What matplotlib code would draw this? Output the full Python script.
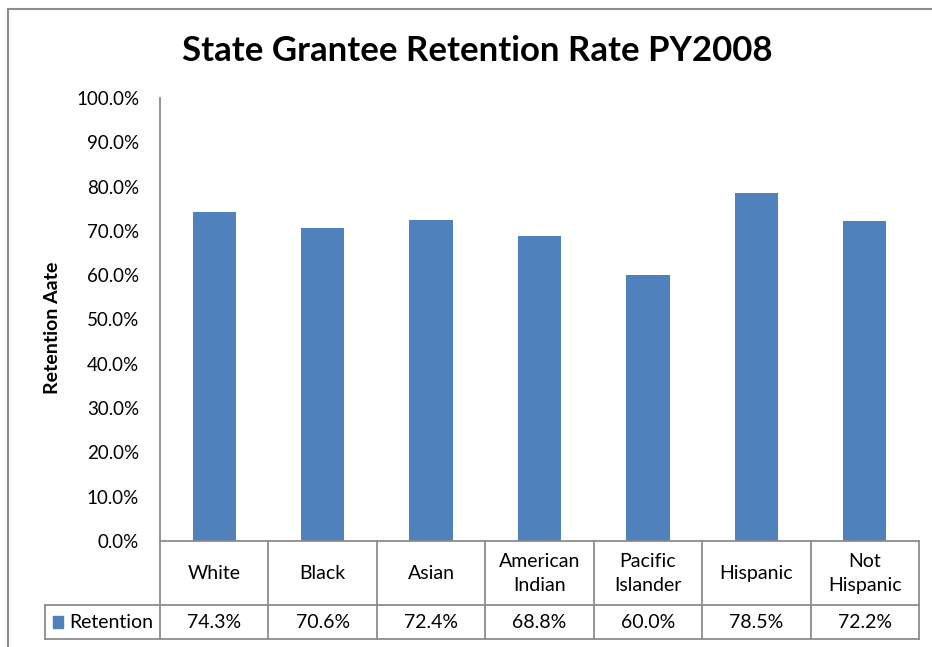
import matplotlib.pyplot as plt
import matplotlib.patches as mpatches
import numpy as np

plt.rcParams['font.family'] = ['Lato', 'DejaVu Sans']

groups = ["White", "Black", "Asian", "American\nIndian", "Pacific\nIslander",
          "Hispanic", "Not\nHispanic"]
retention = [74.3, 70.6, 72.4, 68.8, 60.0, 78.5, 72.2]
series_name = "Retention"

bar_color = "#4F81BD"
line_color = "#8C8C8C"

W, H = 932, 647
fig = plt.figure(figsize=(W / 100, H / 100), dpi=100)

# plot area in pixel terms
left, right, top, bottom = 160, 919, 98, 541
ax = fig.add_axes([left / W, (H - bottom) / H, (right - left) / W, (bottom - top) / H])

x = np.arange(len(groups))
ax.bar(x, retention, width=0.4, color=bar_color, zorder=2)
ax.set_xlim(-0.5, len(groups) - 0.5)
ax.set_ylim(0, 100)
ax.set_yticks(np.arange(0, 101, 10))
ax.set_yticklabels([f"{v:.1f}%" for v in np.arange(0, 101, 10)], fontsize=13.5)
ax.tick_params(axis='y', length=0, pad=15)
ax.set_xticks([])
for s in ['top', 'right']:
    ax.spines[s].set_visible(False)
ax.spines['left'].set_color(line_color)
ax.spines['bottom'].set_color(line_color)
ax.spines['left'].set_linewidth(1.3)
ax.spines['bottom'].set_linewidth(1.3)

ax.set_ylabel("Retention Aate", fontsize=14, fontweight='bold')
ax.yaxis.set_label_coords((61 - left) / (right - left), 0.481)

fig.text(477 / W, 1 - 51 / H, "State Grantee Retention Rate PY2008",
         ha='center', va='center', fontsize=25, fontweight='bold')

# data table under the axis
tr = ax.get_xaxis_transform()
row1 = (bottom - 605) / (bottom - top)
row2 = (bottom - 639) / (bottom - top)
leg_left = -0.5 + (45 - left) / ((right - left) / len(groups))
lkw = dict(color=line_color, lw=1.3, transform=tr, clip_on=False)

for b in np.arange(-0.5, len(groups), 1.0):
    ax.plot([b, b], [0, row2], **lkw)
ax.plot([leg_left, len(groups) - 0.5], [row1, row1], **lkw)
ax.plot([leg_left, len(groups) - 0.5], [row2, row2], **lkw)
ax.plot([leg_left, leg_left], [row1, row2], **lkw)

for xi, name, val in zip(x, groups, retention):
    ax.text(xi, row1 / 2 - 0.002, name, transform=tr, ha='center', va='center',
            fontsize=14, linespacing=1.5)
    ax.text(xi, (row1 + row2) / 2, f"{val:.1f}%", transform=tr,
            ha='center', va='center', fontsize=14)

# legend key inside the table
key_w = 0.1
ax.add_patch(mpatches.Rectangle((leg_left + 0.07, (row1 + row2) / 2 - 0.013), key_w, 0.026,
                                transform=tr, color=bar_color, clip_on=False))
ax.text(leg_left + 0.22, (row1 + row2) / 2, series_name, transform=tr,
        ha='left', va='center', fontsize=14)

# chart border
fig.add_artist(mpatches.Rectangle((8 / W, -0.05), 1.0, 1 - 9 / H + 0.05,
                                  transform=fig.transFigure, fill=False,
                                  edgecolor=line_color, lw=1.5))

fig.savefig("out.png", dpi=100)
